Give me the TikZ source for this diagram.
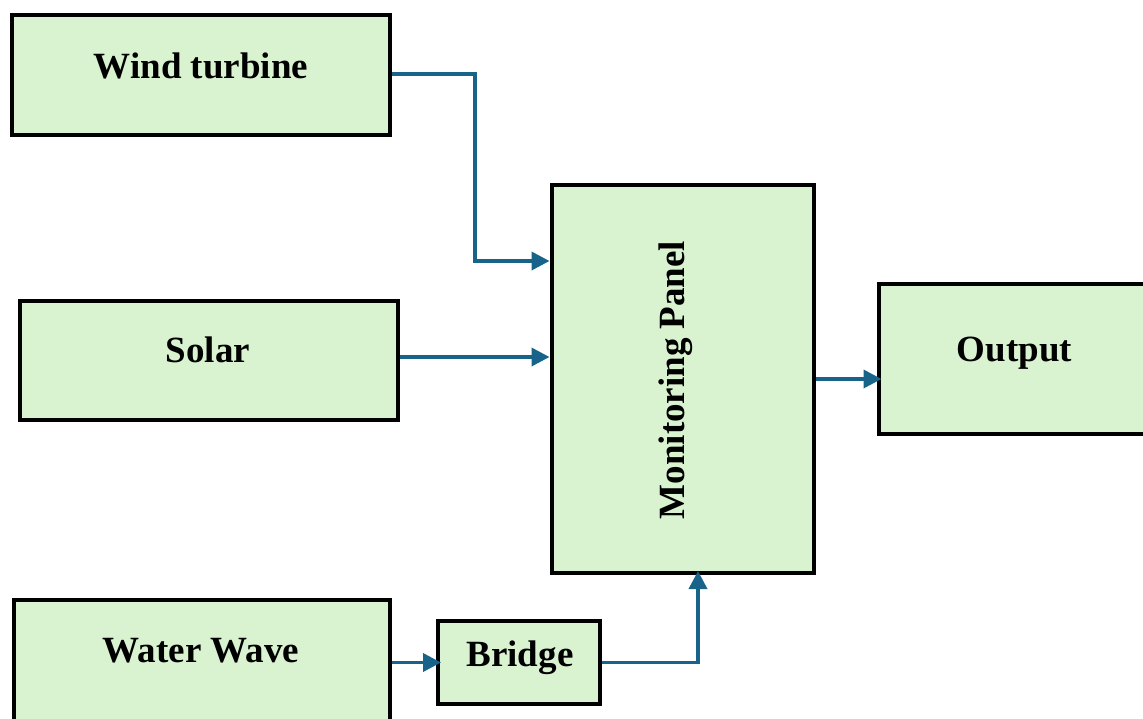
\documentclass[tikz,border=0pt]{standalone}
\usepackage{fontspec}
\setmainfont{Liberation Serif}
\usetikzlibrary{arrows.meta}
\definecolor{boxfill}{HTML}{D9F2D0}
\definecolor{linkblue}{HTML}{186389}
\tikzset{
  block/.style={draw=black, line width=4pt, fill=boxfill, rectangle, inner sep=0pt},
  lbl/.style={font=\fontsize{37}{44}\selectfont\bfseries, inner sep=0pt, anchor=base},
  link/.style={draw=linkblue, line width=3.6pt, -{Triangle[length=18pt,width=18pt]}},
}
\begin{document}
\begin{tikzpicture}[x=1pt, y=-1pt]
\useasboundingbox (0,0) rectangle (1143,718);
\clip (0,0) rectangle (1143,718);

% blocks
\node[block, minimum width=378pt, minimum height=120pt] (wind) at (201,75) {};
\node[block, minimum width=378pt, minimum height=119pt] (solar) at (208.5,360) {};
\node[block, minimum width=376pt, minimum height=161pt] (water) at (202,680) {};
\node[block, minimum width=162pt, minimum height=83pt] (bridge) at (519,662.5) {};
\node[block, minimum width=262pt, minimum height=388pt] (monitor) at (682.5,379) {};
\node[block, minimum width=301pt, minimum height=150pt] (output) at (1029,359) {};

% labels
\node[lbl] (windtxt) at (201,78) {Wind turbine};
\node[lbl] (solartxt) at (208,362) {Solar};
\node[lbl] (watertxt) at (201,662) {Water Wave};
\node[lbl] (bridgetxt) at (520,666) {Bridge};
\node[lbl] (outputtxt) at (1014.5,361) {Output};
\node[lbl, rotate=90] (monitortxt) at (684.5,380) {Monitoring Panel};

% connectors
\draw[link] ([yshift=1pt]wind.east) -- ++(83,0) |- ([yshift=118pt]monitor.west);
\draw[link] ([yshift=3pt]solar.east) -- ([yshift=3pt]solar.east -| monitor.west);
\draw[link] (monitor.east) -- ([xshift=5pt]monitor.east -| output.west);
\draw[link] (water.east |- bridge.west) -- ([xshift=5pt]bridge.west);
\draw[link] (bridge.east) -| ([xshift=15.5pt, yshift=4pt]monitor.south);
\end{tikzpicture}
\end{document}
